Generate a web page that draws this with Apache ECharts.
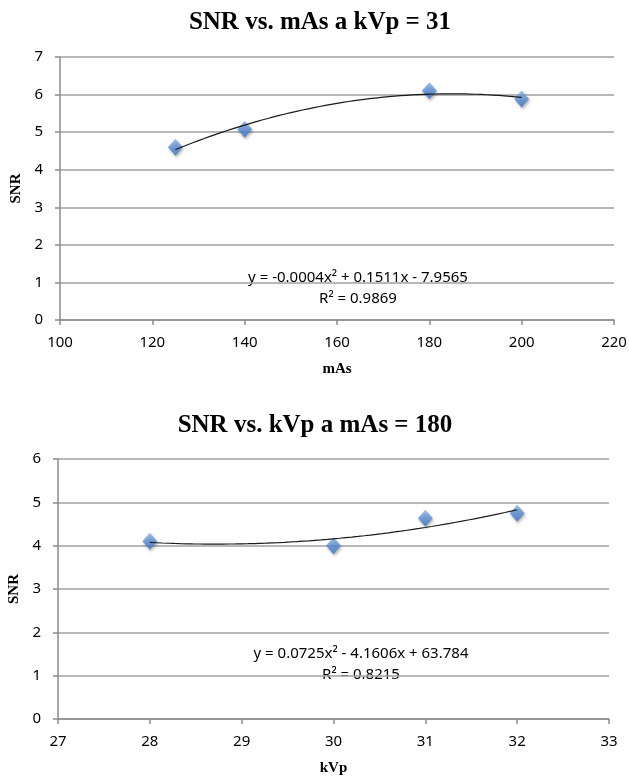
<!DOCTYPE html>
<html>
<head>
<meta charset="utf-8">
<script src="https://cdn.jsdelivr.net/npm/echarts@6/dist/echarts.min.js"></script>
<style>
  html, body { margin: 0; padding: 0; background: #fff; }
  #chart { width: 629px; height: 778px; }
</style>
</head>
<body>
<div id="chart"></div>
<script>
// 上图：kVp = 31 时 SNR 随 mAs 变化
var mAsValues = [125, 140, 180, 200]
var snrByMAs = [4.6, 5.08, 6.1, 5.88]
var mAsTicks = [100, 220, 20]
// 下图：mAs = 180 时 SNR 随 kVp 变化
var kVpValues = [28, 30, 31, 32]
var snrByKVp = [4.1, 4.0, 4.63, 4.75]
var kVpTicks = [27, 33, 1]
var eqTop = ['y = -0.0004x² + 0.1511x - 7.9565', 'R² = 0.9869']
var eqBottom = ['y = 0.0725x² - 4.1606x + 63.784', 'R² = 0.8215']

// 二次多项式最小二乘拟合（趋势线）
function polyFit2 (xs, ys) {
  var m = xs.reduce(function (a, b) { return a + b }, 0) / xs.length
  var S = [0, 0, 0, 0, 0]
  var T = [0, 0, 0]
  for (var i = 0; i < xs.length; i++) {
    var u = xs[i] - m
    for (var k = 0; k < 5; k++) S[k] += Math.pow(u, k)
    for (var j = 0; j < 3; j++) T[j] += ys[i] * Math.pow(u, j)
  }
  var A = [[S[0], S[1], S[2], T[0]], [S[1], S[2], S[3], T[1]], [S[2], S[3], S[4], T[2]]]
  for (var c = 0; c < 3; c++) {
    for (var r = c + 1; r < 3; r++) {
      var f = A[r][c] / A[c][c]
      for (var q = c; q < 4; q++) A[r][q] -= f * A[c][q]
    }
  }
  var coef = [0, 0, 0]
  for (var r2 = 2; r2 >= 0; r2--) {
    var s = A[r2][3]
    for (var q2 = r2 + 1; q2 < 3; q2++) s -= A[r2][q2] * coef[q2]
    coef[r2] = s / A[r2][r2]
  }
  return function (x) { var u = x - m; return coef[0] + coef[1] * u + coef[2] * u * u }
}

function trendData (xs, ys) {
  var fn = polyFit2(xs, ys)
  var lo = Math.min.apply(null, xs)
  var hi = Math.max.apply(null, xs)
  var out = []
  for (var i = 0; i <= 60; i++) {
    var x = lo + (hi - lo) * i / 60
    out.push([x, fn(x)])
  }
  return out
}

function pairs (xs, ys) {
  return xs.map(function (x, i) { return [x, ys[i]] })
}

var labelFont = 'Noto Sans'
var serifFont = 'Liberation Serif'

function xAxisOf (idx, ticks, name) {
  return {
    type: 'value',
    gridIndex: idx,
    min: ticks[0],
    max: ticks[1],
    interval: ticks[2],
    name: name,
    nameLocation: 'middle',
    nameGap: 42,
    nameTextStyle: { fontFamily: serifFont, fontWeight: 'bold', fontSize: 15, color: '#000' },
    axisLine: { show: true, onZero: false, lineStyle: { color: '#8c8c8c', width: 1.5 } },
    axisTick: { show: true, length: 5, lineStyle: { color: '#8c8c8c', width: 1.5 } },
    axisLabel: { fontFamily: labelFont, fontSize: 15, color: '#000', margin: 15 },
    splitLine: { show: false }
  }
}

function yAxisOf (idx, max, name) {
  return {
    type: 'value',
    gridIndex: idx,
    min: 0,
    max: max,
    interval: 1,
    name: name,
    nameLocation: 'middle',
    nameGap: 34,
    nameTextStyle: { fontFamily: serifFont, fontWeight: 'bold', fontSize: 15, color: '#000' },
    axisLine: { show: true, lineStyle: { color: '#8c8c8c', width: 1.5 } },
    axisTick: { show: true, length: 5, lineStyle: { color: '#8c8c8c', width: 1.5 } },
    axisLabel: { fontFamily: labelFont, fontSize: 15, color: '#000', margin: 17 },
    splitLine: { show: true, lineStyle: { color: '#a0a0a0', width: 1.5 } }
  }
}

var markerStyle = {
  color: new echarts.graphic.LinearGradient(0, 0, 0, 1, [
    { offset: 0, color: '#8fb4e3' },
    { offset: 0.5, color: '#5b8fd6' },
    { offset: 1, color: '#3f74c0' }
  ]),
  shadowColor: 'rgba(0,0,0,0.35)',
  shadowBlur: 3,
  shadowOffsetX: 1,
  shadowOffsetY: 2
}

function eqGraphic (lines, cx, y) {
  return {
    type: 'text',
    x: cx,
    y: y,
    style: {
      text: lines.join('\n'),
      align: 'center',
      font: '15px "Noto Sans"',
      lineHeight: 21,
      fill: '#000'
    }
  }
}

var option = {
  animation: false,
  title: [
    { text: 'SNR vs. mAs a kVp = 31', left: 315, top: 5, textAlign: 'center',
      textStyle: { fontFamily: serifFont, fontWeight: 'bold', fontSize: 25, color: '#000' } },
    { text: 'SNR vs. kVp a mAs = 180', left: 310, top: 408, textAlign: 'center',
      textStyle: { fontFamily: serifFont, fontWeight: 'bold', fontSize: 25, color: '#000' } }
  ],
  grid: [
    { left: 60, right: 15, top: 57, height: 263, outerBoundsMode: 'none', containLabel: false },
    { left: 58, right: 20, top: 459, height: 260, outerBoundsMode: 'none', containLabel: false }
  ],
  xAxis: [xAxisOf(0, mAsTicks, 'mAs'), xAxisOf(1, kVpTicks, 'kVp')],
  yAxis: [yAxisOf(0, 7, 'SNR'), yAxisOf(1, 6, 'SNR')],
  series: [
    {
      type: 'line', xAxisIndex: 0, yAxisIndex: 0, showSymbol: false, smooth: false,
      data: trendData(mAsValues, snrByMAs),
      lineStyle: { color: '#1a1a1a', width: 1.2 }, z: 3
    },
    {
      type: 'scatter', xAxisIndex: 0, yAxisIndex: 0, symbol: 'diamond', symbolSize: [15, 17],
      data: pairs(mAsValues, snrByMAs), itemStyle: markerStyle, z: 2
    },
    {
      type: 'line', xAxisIndex: 1, yAxisIndex: 1, showSymbol: false, smooth: false,
      data: trendData(kVpValues, snrByKVp),
      lineStyle: { color: '#1a1a1a', width: 1.2 }, z: 3
    },
    {
      type: 'scatter', xAxisIndex: 1, yAxisIndex: 1, symbol: 'diamond', symbolSize: [15, 17],
      data: pairs(kVpValues, snrByKVp), itemStyle: markerStyle, z: 2
    }
  ],
  graphic: [
    eqGraphic(eqTop, 358, 267),
    eqGraphic(eqBottom, 361, 643)
  ]
}

echarts.init(document.getElementById('chart')).setOption(option)
</script>
</body>
</html>
